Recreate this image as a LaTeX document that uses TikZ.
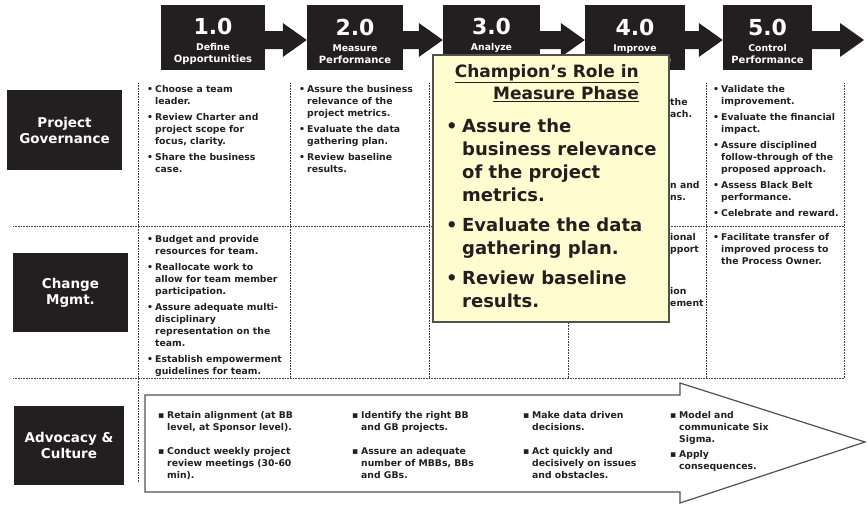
\documentclass[tikz,border=0pt]{standalone}
\usepackage{fontspec}
\setmainfont{DejaVu Sans}
\usetikzlibrary{calc}
\definecolor{boxblack}{RGB}{35,31,32}
\definecolor{notefill}{RGB}{255,253,208}
\definecolor{noteedge}{RGB}{80,80,80}
\newcommand{\itm}{\makebox[8pt][l]{\textbullet}}
\newcommand{\hang}{\hspace*{8pt}}
\newcommand{\sqb}{\makebox[9pt][l]{▪}}
\newcommand{\sqh}{\hspace*{9pt}}
\newcommand{\flowarrow}[2]{\fill[flow] ($(#1|-ay)+(0,-9)$) -- ($(#2|-ay)+(-24,-9)$) -- ($(#2|-ay)+(-24,-17)$) -- (#2|-ay) -- ($(#2|-ay)+(-24,17)$) -- ($(#2|-ay)+(-24,9)$) -- ($(#1|-ay)+(0,9)$) -- cycle;}
\newcommand{\phasetext}[3]{\fontsize{22}{22}\selectfont #1\\[4pt]\fontsize{9.3}{12.5}\selectfont #2\\#3}
\tikzset{
  hdrbox/.style={fill=boxblack, inner sep=0pt, minimum height=65pt},
  hdrtext/.style={text=white, align=center, inner sep=0pt, font=\bfseries},
  lblbox/.style={fill=boxblack, text=white, align=center, inner sep=0pt, font=\bfseries\fontsize{13.5}{16}\selectfont},
  cell/.style={anchor=north west, align=left, inner sep=0pt, text=boxblack, font=\bfseries\fontsize{9.3}{12}\selectfont},
  gridline/.style={densely dotted, line width=0.6pt, black!75},
  flow/.style={fill=boxblack},
}
\begin{document}
\begin{tikzpicture}[x=1pt, y=-1pt]
	%%%%% START %%%%%
	\useasboundingbox (0,0) rectangle (868,504);
	\coordinate (ay) at (0,40);
	
	% phase boxes
	\node[hdrbox, minimum width=104pt] (h1) at (213,37.5) {};
	\node[hdrbox, minimum width=96pt] (h2) at (355,37.5) {};
	\node[hdrbox, minimum width=97pt] (h3) at (491.5,37.5) {};
	\node[hdrbox, minimum width=100pt] (h4) at (635,37.5) {};
	\node[hdrbox, minimum width=89pt] (h5) at (767.5,37.5) {};
	\node[hdrtext] (h1t) at ($(h1.center)+(0,3.5)$) {\phasetext{1.0}{Define}{Opportunities}};
	\node[hdrtext] (h2t) at ($(h2.center)+(0,3.5)$) {\phasetext{2.0}{Measure}{Performance}};
	\node[hdrtext] (h3t) at ($(h3.center)+(0,3.5)$) {\phasetext{3.0}{Analyze}{Opportunity}};
	\node[hdrtext] (h4t) at ($(h4.center)+(0,3.5)$) {\phasetext{4.0}{Improve}{Performance}};
	\node[hdrtext] (h5t) at ($(h5.center)+(0,3.5)$) {\phasetext{5.0}{Control}{Performance}};
	\coordinate (hend) at (864,40);
	
	\flowarrow{h1.east}{h2.west}
	\flowarrow{h2.east}{h3.west}
	\flowarrow{h3.east}{h4.west}
	\flowarrow{h4.east}{h5.west}
	\flowarrow{h5.east}{hend}
	
	% row labels
	\node[lblbox, minimum width=115pt, minimum height=80pt] (gov) at (64.5,130) {Project\\Governance};
	\node[lblbox, minimum width=115pt, minimum height=79pt] (chg) at (70.5,292.5) {Change\\Mgmt.};
	\node[lblbox, minimum width=110pt, minimum height=79pt] (adv) at (69,445.5) {Advocacy \&\\Culture};
	
	% dotted grid
	\draw[gridline] (138,83) -- (138,483);
	\foreach \x in {290,429,568,706,844}
		\draw[gridline] (\x,83) -- (\x,378);
	\draw[gridline] (13,226) -- (844,226);
	\draw[gridline] (13,378) -- (844,378);
	
	% row 1
	\node[cell] (g1) at (147,85) {\itm Choose a team\\\hang leader.\\[4pt]\itm Review Charter and\\\hang project scope for\\\hang focus, clarity.\\[4pt]\itm Share the business\\\hang case.};
	\node[cell] (g2) at (299,85) {\itm Assure the business\\\hang relevance of the\\\hang project metrics.\\[4pt]\itm Evaluate the data\\\hang gathering plan.\\[4pt]\itm Review baseline\\\hang results.};
	\node[cell] (g4a) at (670,98) {the\\ach.};
	\node[cell] (g4b) at (670,181) {n and\\ns.};
	\node[cell] (g5) at (713,85) {\itm Validate the\\\hang improvement.\\[4pt]\itm Evaluate the financial\\\hang impact.\\[4pt]\itm Assure disciplined\\\hang follow-through of the\\\hang proposed approach.\\[4pt]\itm Assess Black Belt\\\hang performance.\\[4pt]\itm Celebrate and reward.};
	
	% row 2
	\node[cell] (c1) at (147,235) {\itm Budget and provide\\\hang resources for team.\\[4pt]\itm Reallocate work to\\\hang allow for team member\\\hang participation.\\[4pt]\itm Assure adequate multi-\\\hang disciplinary\\\hang representation on the\\\hang team.\\[4pt]\itm Establish empowerment\\\hang guidelines for team.};
	\node[cell] (c4a) at (670,233) {ional\\pport};
	\node[cell] (c4b) at (670,287) {ion\\ement};
	\node[cell] (c5) at (713,233) {\itm Facilitate transfer of\\\hang improved process to\\\hang the Process Owner.};
	
	% row 3 arrow
	\draw[line width=1.2pt, noteedge, fill=white] (145,395) -- (680,395) -- (680,383) -- (865,442) -- (680,503) -- (680,492) -- (145,492) -- cycle;
	\node[cell] (a1) at (158,411) {\sqb Retain alignment (at BB\\\sqh level, at Sponsor level).\\[12pt]\sqb Conduct weekly project\\\sqh review meetings (30-60\\\sqh min).};
	\node[cell] (a2) at (352,411) {\sqb Identify the right BB\\\sqh and GB projects.\\[12pt]\sqb Assure an adequate\\\sqh number of MBBs, BBs\\\sqh and GBs.};
	\node[cell] (a3) at (523,411) {\sqb Make data driven\\\sqh decisions.\\[12pt]\sqb Act quickly and\\\sqh decisively on issues\\\sqh and obstacles.};
	\node[cell] (a4) at (670,411) {\sqb Model and\\\sqh communicate Six\\\sqh Sigma.\\[3pt]\sqb Apply\\\sqh consequences.};
	
	% champion note
	\node[draw=noteedge, line width=1.3pt, fill=notefill, minimum width=236pt, minimum height=267pt, inner sep=0pt] (note) at (551,188.5) {};
	\node[anchor=north east, align=right, inner sep=0pt, text=boxblack, font=\bfseries\fontsize{17}{22}\selectfont] (notetitle) at (639,64) {\underline{Champion’s Role in}\\\underline{Measure Phase}};
	\node[anchor=north west, align=left, inner sep=0pt, text=boxblack, font=\bfseries\fontsize{18}{23}\selectfont] (notebody) at (446,119) {\makebox[16pt][l]{\textbullet}Assure the\\\hspace*{16pt}business relevance\\\hspace*{16pt}of the project\\\hspace*{16pt}metrics.\\[7pt]\makebox[16pt][l]{\textbullet}Evaluate the data\\\hspace*{16pt}gathering plan.\\[7pt]\makebox[16pt][l]{\textbullet}Review baseline\\\hspace*{16pt}results.};
	
	%%%%% END %%%%%
\end{tikzpicture}
\end{document}
